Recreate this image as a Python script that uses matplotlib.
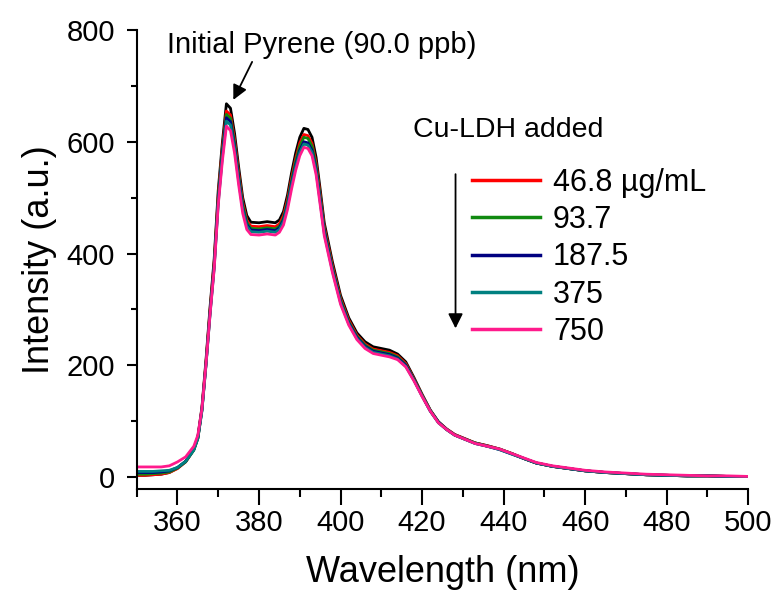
import matplotlib
matplotlib.use("Agg")
import matplotlib.pyplot as plt

# wavelength grid (nm) shared by all spectra
wavelength = [350, 352, 354, 356, 358, 360, 362, 364, 365, 366, 367, 368, 369, 370,
              371, 372, 373, 374, 375, 376, 377, 378, 380, 382, 384, 385, 386, 387,
              388, 389, 390, 391, 392, 393, 394, 395, 396, 398, 400, 402, 404, 406,
              408, 410, 412, 414, 416, 418, 420, 422, 424, 426, 428, 430, 433, 436,
              439, 442, 445, 448, 452, 456, 460, 465, 470, 475, 480, 485, 490, 495, 500]

# initial pyrene spectrum (black)
initial = [3, 3, 4, 5, 8, 16, 28, 50, 72, 125, 210, 305, 390, 513,
           598, 668, 660, 615, 555, 500, 468, 456, 455, 457, 455, 460, 475, 505,
           545, 580, 608, 624, 622, 608, 572, 515, 455, 385, 325, 285, 258, 242,
           233, 230, 227, 220, 206, 178, 148, 120, 99, 86, 76, 70, 61, 56,
           50, 42, 33, 25, 19, 15, 11, 8, 6, 4, 3, 2, 2, 1, 1]

# spectra after Cu-LDH additions
cu_468 = [3, 3, 4, 5, 8, 15, 27, 49, 70, 122, 206, 300, 384, 505,
          588, 655, 648, 604, 545, 492, 460, 449, 448, 450, 448, 453, 468, 497,
          536, 570, 598, 613, 611, 597, 562, 506, 448, 379, 320, 281, 254, 238,
          229, 226, 223, 217, 203, 176, 147, 119, 98, 86, 76, 70, 61, 56,
          50, 42, 33, 25, 19, 15, 11, 8, 6, 4, 3, 2, 2, 1, 1]
cu_937 = [5, 5, 6, 7, 9, 16, 27, 48, 69, 120, 203, 297, 380, 500,
          583, 649, 642, 598, 540, 487, 456, 445, 444, 446, 444, 449, 463, 492,
          531, 565, 592, 608, 606, 592, 557, 501, 444, 375, 317, 278, 252, 236,
          227, 224, 221, 215, 201, 175, 146, 119, 98, 85, 75, 69, 61, 55,
          50, 42, 33, 25, 19, 15, 11, 8, 6, 4, 3, 2, 2, 1, 1]
cu_1875 = [8, 8, 8, 9, 11, 17, 28, 49, 70, 120, 202, 295, 377, 495,
           577, 643, 636, 593, 535, 482, 452, 442, 441, 443, 441, 446, 460, 488,
           526, 559, 585, 600, 598, 585, 551, 496, 440, 372, 314, 276, 250, 234,
           225, 222, 219, 213, 200, 174, 145, 118, 98, 85, 75, 69, 60, 55,
           49, 41, 33, 25, 19, 15, 11, 8, 6, 4, 3, 2, 2, 1, 1]
cu_375 = [10, 10, 10, 11, 12, 17, 28, 48, 69, 118, 200, 292, 374, 490,
          572, 637, 630, 588, 530, 479, 449, 439, 438, 440, 438, 443, 457, 485,
          523, 555, 581, 596, 594, 581, 547, 492, 436, 369, 312, 274, 248, 232,
          223, 220, 217, 211, 198, 173, 145, 118, 97, 85, 75, 69, 60, 55,
          49, 41, 33, 25, 19, 15, 11, 8, 6, 4, 3, 2, 2, 1, 1]
cu_750 = [18, 18, 18, 18, 20, 27, 36, 55, 75, 122, 202, 292, 372, 487,
          565, 628, 620, 580, 523, 472, 443, 434, 433, 435, 433, 438, 451, 479,
          516, 549, 575, 590, 588, 575, 541, 487, 432, 366, 309, 272, 246, 230,
          221, 218, 215, 210, 197, 172, 144, 118, 97, 85, 75, 69, 60, 55,
          50, 42, 34, 26, 20, 16, 12, 9, 7, 5, 4, 3, 2, 2, 1]

series = [cu_468, cu_937, cu_1875, cu_375, cu_750]
labels = ["46.8 \u00b5g/mL", "93.7", "187.5", "375", "750"]
colors = ["#ff0000", "#108a10", "#000080", "#008080", "#ff1a8c"]

plt.rcParams['font.family'] = ['Liberation Sans', 'DejaVu Sans']

fig = plt.figure(figsize=(7.75, 5.92), dpi=100)
ax = fig.add_axes([0.1764, 0.1735, 0.7891, 0.7758])

# draw spectra: initial first, additions on top
ax.plot(wavelength, initial, color="black", lw=2)
handles = []
for vals, lab, col in zip(series, labels, colors):
    line, = ax.plot(wavelength, vals, color=col, lw=2, label=lab)
    handles.append(line)

ax.set_xlim(350, 500)
ax.set_ylim(-22, 800)
ax.set_xticks(range(360, 501, 20))
ax.set_xticks(range(350, 501, 10), minor=True)
ax.set_yticks(range(0, 801, 200))
ax.set_yticks(range(0, 801, 100), minor=True)

for side in ["top", "right"]:
    ax.spines[side].set_visible(False)
for side in ["left", "bottom"]:
    ax.spines[side].set_linewidth(1.5)

ax.tick_params(axis="x", which="major", length=11.5, width=1.5, labelsize=21, pad=3)
ax.tick_params(axis="x", which="minor", length=6, width=1.5)
ax.tick_params(axis="y", which="major", length=7.5, width=1.5, labelsize=21, pad=8)
ax.tick_params(axis="y", which="minor", length=4, width=1.5)

ax.set_xlabel("Wavelength (nm)", fontsize=26, labelpad=13)
ax.set_ylabel("Intensity (a.u.)", fontsize=26, labelpad=7)

# annotation for the initial spectrum
ax.annotate("Initial Pyrene (90.0 ppb)", xy=(373.7, 675), xytext=(357.4, 773),
            fontsize=21, ha="left", va="center",
            arrowprops=dict(arrowstyle="-|>", color="black", lw=1.3,
                            mutation_scale=22, shrinkA=0, shrinkB=0,
                            relpos=(0.28, 0.0)))

# legend with its title and the downward arrow
ax.text(417.7, 621, "Cu-LDH added", fontsize=20.5, ha="left", va="center")
leg = ax.legend(handles=handles, loc="upper left", bbox_to_anchor=(0.549, 0.70),
                frameon=False, fontsize=22, handlelength=2.2, handletextpad=0.44,
                labelspacing=0.24, borderpad=0, borderaxespad=0)
for h in leg.get_lines():
    h.set_linewidth(2.5)
ax.annotate("", xy=(428.2, 266), xytext=(428.2, 542),
            arrowprops=dict(arrowstyle="-|>", color="black", lw=1.3,
                            mutation_scale=22, shrinkA=0, shrinkB=0))

fig.savefig("out.png", dpi=100)
